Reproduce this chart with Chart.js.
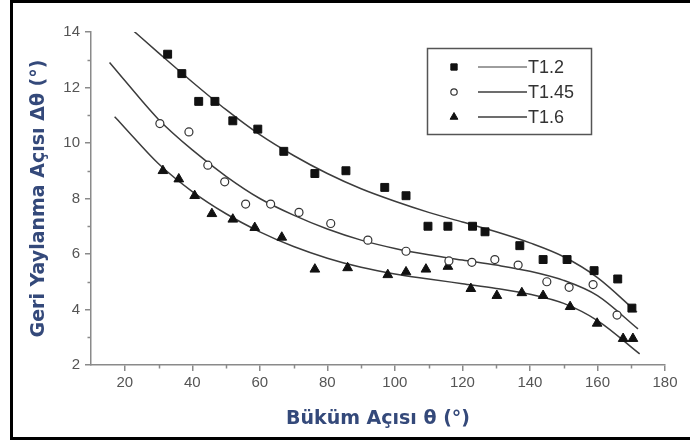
<!DOCTYPE html>
<html>
<head>
<meta charset="utf-8">
<script src="https://cdn.jsdelivr.net/npm/chart.js@4.4.1/dist/chart.umd.min.js"></script>
<style>
html, body { margin: 0; padding: 0; background: #fff; }
#wrap { width: 690px; height: 443px; }
</style>
</head>
<body>
<div id="wrap"><canvas id="grafico" width="690" height="443"></canvas></div>
<script>
// Datos medidos (puntos) por serie
const t12X = [32.7, 36.9, 41.9, 46.7, 52, 59.4, 67.1, 76.3, 85.5, 97, 103.3, 109.8, 115.7, 123, 126.7, 137, 143.9, 151, 159, 166, 170.2];
const t12Y = [13.2, 12.5, 11.5, 11.5, 10.8, 10.5, 9.7, 8.9, 9.0, 8.4, 8.1, 7.0, 7.0, 7.0, 6.8, 6.3, 5.8, 5.8, 5.4, 5.1, 4.05];

const t145X = [30.4, 39, 44.6, 49.6, 55.8, 63.2, 71.6, 81, 92, 103.3, 116, 122.8, 129.6, 136.5, 145, 151.6, 158.7, 165.8];
const t145Y = [10.7, 10.4, 9.2, 8.6, 7.8, 7.8, 7.5, 7.1, 6.5, 6.1, 5.75, 5.7, 5.8, 5.6, 5.0, 4.8, 4.9, 3.8];

const t16X = [31.3, 36, 40.7, 45.8, 52, 58.5, 66.5, 76.3, 86, 97.9, 103.3, 109.2, 115.7, 122.5, 130.2, 137.6, 143.9, 151.9, 159.9, 167.6, 170.5];
const t16Y = [9.0, 8.7, 8.1, 7.45, 7.25, 6.95, 6.6, 5.45, 5.5, 5.25, 5.35, 5.45, 5.55, 4.75, 4.5, 4.6, 4.5, 4.1, 3.5, 2.95, 2.95];

// Curvas de ajuste
const fit12X = [22.5, 30, 40, 50, 60, 70, 80, 90, 100, 110, 120, 130, 140, 150, 160, 171.7];
const fit12Y = [14.05, 13.25, 12.2, 11.2, 10.3, 9.55, 8.9, 8.35, 7.9, 7.5, 7.15, 6.8, 6.4, 5.9, 5.15, 3.9];

const fit145X = [15.5, 20, 30, 40, 50, 60, 70, 80, 90, 100, 110, 120, 130, 140, 150, 160, 172];
const fit145Y = [12.9, 12.25, 10.85, 9.75, 8.8, 8.0, 7.4, 6.9, 6.5, 6.2, 5.97, 5.78, 5.6, 5.38, 5.05, 4.5, 3.3];

const fit16X = [17, 20, 30, 40, 50, 60, 70, 80, 90, 100, 110, 120, 130, 140, 150, 160, 172.5];
const fit16Y = [10.95, 10.55, 9.25, 8.25, 7.45, 6.8, 6.27, 5.85, 5.52, 5.28, 5.1, 4.93, 4.76, 4.55, 4.22, 3.6, 2.4];

const etiquetas = ['T1.2', 'T1.45', 'T1.6'];

// Marcas de los ejes
const xTicks = [20, 40, 60, 80, 100, 120, 140, 160, 180];
const xMenores = [30, 50, 70, 90, 110, 130, 150, 170];
const yTicks = [2, 4, 6, 8, 10, 12, 14];
const yMenores = [3, 5, 7, 9, 11, 13];

function aPuntos(xs, ys) {
    return xs.map((x, i) => ({ x: x, y: ys[i] }));
}

const colorEje = '#8a8a8a';
const colorTitulo = '#34497a';

// Marco, marcas menores y leyenda
const extrasPlugin = {
    id: 'extras',
    afterDraw(chart) {
        const ctx = chart.ctx;
        const xs = chart.scales.x;
        const ys = chart.scales.y;
        ctx.save();

        // marcas menores
        ctx.strokeStyle = colorEje;
        ctx.lineWidth = 1.5;
        ctx.beginPath();
        xMenores.forEach(v => {
            const px = Math.round(xs.getPixelForValue(v)) + 0.5;
            ctx.moveTo(px, xs.top);
            ctx.lineTo(px, xs.top + 3.5);
        });
        yMenores.forEach(v => {
            const py = Math.round(ys.getPixelForValue(v)) + 0.5;
            ctx.moveTo(ys.right, py);
            ctx.lineTo(ys.right - 3.5, py);
        });
        ctx.stroke();

        // leyenda
        ctx.strokeStyle = '#555';
        ctx.lineWidth = 1.5;
        ctx.strokeRect(427.5, 48.5, 164, 86);
        const filas = [67, 92, 117];
        for (let i = 0; i < 3; i++) {
            const dp = chart.data.datasets[i];
            const dl = chart.data.datasets[i + 3];
            const y = filas[i];
            ctx.fillStyle = dp.backgroundColor;
            ctx.strokeStyle = dp.borderColor;
            ctx.lineWidth = dp.borderWidth;
            Chart.helpers.drawPoint(ctx, {
                pointStyle: dp.pointStyle,
                radius: dp.pointRadius * 0.8,
                borderWidth: dp.borderWidth,
                rotation: 0
            }, 454, y);
            ctx.strokeStyle = dl.borderColor;
            ctx.lineWidth = i === 0 ? 1 : dl.borderWidth;
            ctx.beginPath();
            ctx.moveTo(478, y);
            ctx.lineTo(527, y);
            ctx.stroke();
            ctx.fillStyle = '#333';
            ctx.font = '18px "Liberation Sans", Arial, sans-serif';
            ctx.textBaseline = 'middle';
            ctx.fillText(etiquetas[i], 528, y + 1);
        }

        // marco exterior
        ctx.strokeStyle = '#000';
        ctx.lineWidth = 3;
        ctx.beginPath();
        ctx.moveTo(690, 1.5);
        ctx.lineTo(11.5, 1.5);
        ctx.lineTo(11.5, 438.5);
        ctx.lineTo(690, 438.5);
        ctx.stroke();
        ctx.restore();
    }
};

const ctx = document.getElementById('grafico').getContext('2d');
const grafico = new Chart(ctx, {
    type: 'scatter',
    data: {
        datasets: [
            {
                label: etiquetas[0],
                data: aPuntos(t12X, t12Y),
                pointStyle: 'rect',
                pointRadius: 5.6,
                pointHoverRadius: 5.6,
                backgroundColor: '#111',
                borderColor: '#111',
                borderWidth: 1,
                showLine: false
            },
            {
                label: etiquetas[1],
                data: aPuntos(t145X, t145Y),
                pointStyle: 'circle',
                pointRadius: 4,
                pointHoverRadius: 4,
                backgroundColor: '#fff',
                borderColor: '#333',
                borderWidth: 1.2,
                showLine: false
            },
            {
                label: etiquetas[2],
                data: aPuntos(t16X, t16Y),
                pointStyle: 'triangle',
                pointRadius: 5.6,
                pointHoverRadius: 5.6,
                backgroundColor: '#111',
                borderColor: '#111',
                borderWidth: 1,
                showLine: false
            },
            {
                label: 'ajuste ' + etiquetas[0],
                data: aPuntos(fit12X, fit12Y),
                showLine: true,
                pointRadius: 0,
                borderColor: '#3c3c3c',
                borderWidth: 1.5,
                cubicInterpolationMode: 'monotone'
            },
            {
                label: 'ajuste ' + etiquetas[1],
                data: aPuntos(fit145X, fit145Y),
                showLine: true,
                pointRadius: 0,
                borderColor: '#3c3c3c',
                borderWidth: 1.5,
                cubicInterpolationMode: 'monotone'
            },
            {
                label: 'ajuste ' + etiquetas[2],
                data: aPuntos(fit16X, fit16Y),
                showLine: true,
                pointRadius: 0,
                borderColor: '#3c3c3c',
                borderWidth: 1.5,
                cubicInterpolationMode: 'monotone'
            }
        ]
    },
    options: {
        responsive: false,
        animation: false,
        layout: { padding: { left: 14, top: 32, right: 25, bottom: 5 } },
        plugins: {
            legend: { display: false },
            tooltip: { enabled: false }
        },
        scales: {
            x: {
                type: 'linear',
                min: 10,
                max: 180,
                afterBuildTicks: function(scale) {
                    scale.ticks = xTicks.map(v => ({ value: v }));
                },
                afterFit: function(scale) { scale.height = 73; },
                border: { color: colorEje, width: 1.5 },
                grid: { drawOnChartArea: false, color: colorEje, lineWidth: 1.5, tickLength: 6 },
                ticks: {
                    padding: 3,
                    color: '#555',
                    font: { family: '"Liberation Sans", Arial, sans-serif', size: 15 }
                },
                title: {
                    display: true,
                    text: 'Büküm Açısı θ (°)',
                    color: colorTitulo,
                    padding: { top: 0, bottom: 8 },
                    font: { family: '"DejaVu Sans", sans-serif', size: 19, weight: 'bold' }
                }
            },
            y: {
                type: 'linear',
                min: 2,
                max: 14,
                afterBuildTicks: function(scale) {
                    scale.ticks = yTicks.map(v => ({ value: v }));
                },
                afterFit: function(scale) { scale.width = 77; },
                border: { color: colorEje, width: 1.5 },
                grid: { drawOnChartArea: false, color: colorEje, lineWidth: 1.5, tickLength: 6 },
                ticks: {
                    padding: 5,
                    color: '#555',
                    font: { family: '"Liberation Sans", Arial, sans-serif', size: 15 }
                },
                title: {
                    display: true,
                    text: 'Geri Yaylanma Açısı Δθ (°)',
                    color: colorTitulo,
                    padding: { top: 14, bottom: 0 },
                    font: { family: '"DejaVu Sans", sans-serif', size: 19, weight: 'bold' }
                }
            }
        }
    },
    plugins: [extrasPlugin]
});
</script>
</body>
</html>
